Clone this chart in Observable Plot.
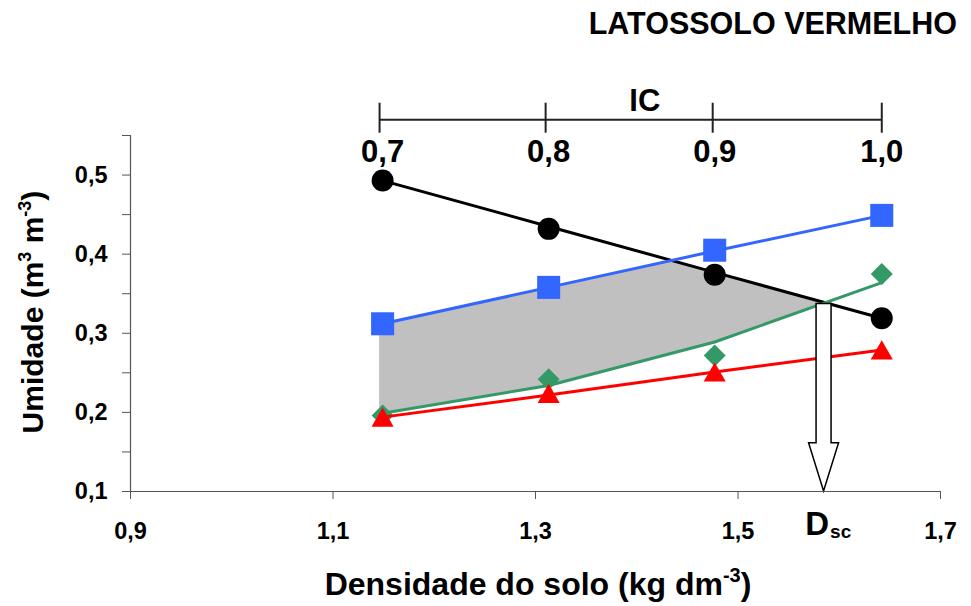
<!DOCTYPE html>
<html><head><meta charset="utf-8">
<script src="https://cdn.jsdelivr.net/npm/d3@7"></script>
<script src="https://cdn.jsdelivr.net/npm/@observablehq/plot@0.6"></script>
<style>
body{margin:0;background:#fff;font-family:"Liberation Sans",Arial,Helvetica,sans-serif;}
#wrap{position:relative;width:971px;height:606px;}
#title{position:absolute;right:14px;top:8px;font-size:30.5px;font-weight:bold;line-height:30px;color:#000;white-space:nowrap;}
</style></head><body>
<div id="wrap"><div id="title">LATOSSOLO VERMELHO</div></div>
<script>
const FONT = '"Liberation Sans", Arial, Helvetica, sans-serif';

// Densidade do solo (x) and Índice de compactação (IC)
const densidade = [1.149, 1.313, 1.477, 1.642];
const icValues = [0.7, 0.8, 0.9, 1.0];
const icPos = [1.146, 1.310, 1.475, 1.642];
const icLabels = ["0,7", "0,8", "0,9", "1,0"];

// Observed points
const blackPts = [0.493, 0.432, 0.374, 0.319];
const bluePts  = [0.312, 0.358, 0.405, 0.449];
const greenPts = [0.196, 0.242, 0.272, 0.375];
const redPts   = [0.190, 0.220, 0.247, 0.275];

// Fitted lines
const blackFit = [0.493, 0.435, 0.377, 0.319];
const blueFit  = [0.312, 0.358, 0.404, 0.449];
const greenFit = [0.199, 0.234, 0.289, 0.364];
const redFit   = [0.194, 0.222, 0.251, 0.279];

// Shaded region
const areaX      = [1.146, 1.313, 1.436, 1.477, 1.586];
const areaTop    = [0.312, 0.358, 0.392, 0.377, 0.3385];
const areaBottom = [0.199, 0.234, 0.275, 0.289, 0.3385];

const dsc = 1.585;
const dscTop = 0.337;

const xTicks = [0.9, 1.1, 1.3, 1.5, 1.7];
const yTicks = [0.1, 0.2, 0.3, 0.4, 0.5];
const yMinor = [0.15, 0.25, 0.35, 0.45, 0.55];

const fmt = d => d.toFixed(1).replace(".", ",");

const series = [
  {pts: blackPts, fit: blackFit, color: "#000000", symbol: "circle", r: 11},
  {pts: bluePts,  fit: blueFit,  color: "#3366ff", symbol: "square", r: 13},
  {pts: greenPts, fit: greenFit, color: "#339966", symbol: "diamond2", r: 9.9},
  {pts: redPts,   fit: redFit,   color: "#ff0000", symbol: "triangle", r: 8.2}
];

const areaData = areaX.map((x, i) => ({x, y1: areaBottom[i], y2: areaTop[i]}));

const seriesMarks = series.flatMap(s => {
  const d = densidade.map((x, i) => ({x, fit: s.fit[i], y: s.pts[i]}));
  return [
    Plot.line(d, {x: "x", y: "fit", stroke: s.color, strokeWidth: 3}),
    Plot.dot(d, {x: "x", y: "y", symbol: s.symbol, r: s.r, fill: s.color, stroke: "none"})
  ];
});

function arrowMark(index, scales, values, dims) {
  const cx = scales.x(dsc), yTop = scales.y(dscTop), yHead = scales.y(0.161), yTip = scales.y(0.1);
  const sw = 7.5, hw = 15;
  const p = `M${cx - sw},${yTop}L${cx + sw},${yTop}L${cx + sw},${yHead}L${cx + hw},${yHead}L${cx},${yTip}L${cx - hw},${yHead}L${cx - sw},${yHead}Z`;
  return d3.create("svg:path").attr("d", p).attr("fill", "white").attr("stroke", "black").attr("stroke-width", 1.5).node();
}

function axisLabels(index, scales, values, dims) {
  const g = d3.create("svg:g").attr("font-family", FONT).attr("font-weight", "bold").attr("fill", "black");
  const cx = (dims.marginLeft + dims.width - dims.marginRight) / 2 + 3;
  const xl = g.append("text").attr("x", cx).attr("y", dims.height - 11).attr("text-anchor", "middle").attr("font-size", 32);
  xl.append("tspan").text("Densidade do solo (kg dm");
  xl.append("tspan").attr("dy", -13).attr("font-size", 20).text("-3");
  xl.append("tspan").attr("dy", 13).text(")");
  const cy = (dims.marginTop + dims.height - dims.marginBottom) / 2 - 1;
  const yl = g.append("text").attr("transform", `translate(43,${cy}) rotate(-90)`).attr("text-anchor", "middle").attr("font-size", 30);
  yl.append("tspan").text("Umidade (m");
  yl.append("tspan").attr("dy", -12).attr("font-size", 18).text("3");
  yl.append("tspan").attr("dy", 12).text(" m");
  yl.append("tspan").attr("dy", -12).attr("font-size", 18).text("-3");
  yl.append("tspan").attr("dy", 12).text(")");
  return g.node();
}

const chart = Plot.plot({
  width: 971,
  height: 606,
  marginLeft: 130,
  marginRight: 31,
  marginTop: 135,
  marginBottom: 115,
  style: {fontFamily: FONT, background: "white", overflow: "visible", color: "black"},
  x: {domain: [0.9, 1.7], axis: null},
  y: {domain: [0.1, 0.55], axis: null},
  marks: [
    Plot.areaY(areaData, {x: "x", y1: "y1", y2: "y2", fill: "#c0c0c0"}),
    ...seriesMarks,
    arrowMark,
    // axes
    Plot.ruleX([0.9], {y1: 0.1, y2: 0.55, stroke: "#555", strokeWidth: 1.2}),
    Plot.ruleY([0.1], {x1: 0.9, x2: 1.7, stroke: "#555", strokeWidth: 1.2}),
    Plot.axisY({ticks: yMinor, tickSize: 8, text: null, stroke: "#555", label: null}),
    Plot.axisY({ticks: yTicks, tickSize: 8, text: null, stroke: "#555", label: null}),
    Plot.axisX({ticks: xTicks, tickSize: 8, text: null, stroke: "#555", label: null}),
    Plot.text(yTicks, {x: 0.9, y: d => d, text: fmt, dx: -23, textAnchor: "end", fontSize: 23.5, fontWeight: "bold", fill: "black"}),
    Plot.text(xTicks, {x: d => d, y: 0.1, text: fmt, dy: 31, lineAnchor: "top", fontSize: 23.5, fontWeight: "bold", fill: "black"}),
    // IC scale
    Plot.ruleY([0.5699], {x1: icPos[0], x2: icPos[3], stroke: "#222", strokeWidth: 2}),
    Plot.ruleX(icPos, {y1: 0.5529, y2: 0.5908, stroke: "#222", strokeWidth: 2}),
    Plot.text(densidade, {x: d => d, y: 0.529, text: (d, i) => icLabels[i], fontSize: 31, fontWeight: "bold", fill: "black"}),
    Plot.text(["IC"], {x: 1.408, y: 0.593, text: d => d, fontSize: 31, fontWeight: "bold", fill: "black"}),
    // Dsc label
    Plot.text(["D"], {x: dsc, y: 0.0444, dx: 5, text: d => d, textAnchor: "end", lineAnchor: "bottom", fontSize: 33, fontWeight: "bold", fill: "black"}),
    Plot.text(["sc"], {x: dsc, y: 0.0406, dx: 6, text: d => d, textAnchor: "start", lineAnchor: "bottom", fontSize: 19, fontWeight: "bold", fill: "black"}),
    axisLabels
  ]
});
document.getElementById("wrap").appendChild(chart);
</script>
</body></html>
